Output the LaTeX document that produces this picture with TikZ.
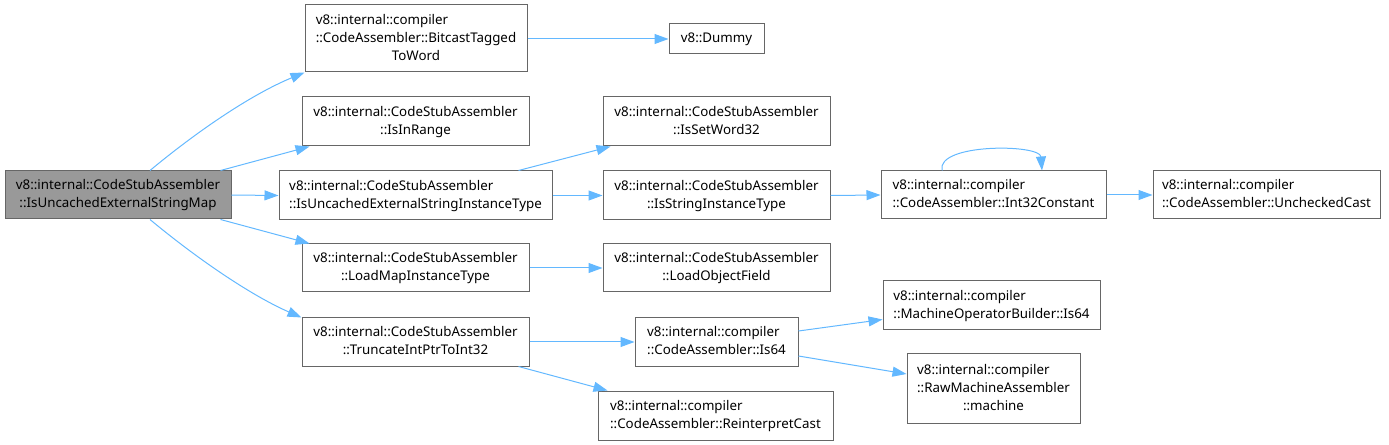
\documentclass[tikz,border=0pt]{standalone}
\usepackage{fontspec}
\setmainfont{Noto Sans}
\usetikzlibrary{arrows.meta,calc}
\definecolor{edgec}{HTML}{63B8FF}
\definecolor{borderc}{HTML}{666666}
\definecolor{rootc}{HTML}{999999}
\newcommand{\dxl}[2]{\begin{tabular}{@{}l@{}}#1\\\multicolumn{1}{@{}c@{}}{#2}\end{tabular}}
\begin{document}
\begin{tikzpicture}[x=0.75pt,y=-0.75pt,
  box/.style={draw=borderc,line width=0.75pt,fill=white,inner sep=0pt,minimum width=#1*0.75pt},
  font=\fontsize{10}{13.5}\selectfont,
  edge/.style={draw=edgec,line width=0.75pt,-{Triangle[length=10.5pt,width=7.5pt]}}]
\useasboundingbox (0,0) rectangle (1389,445);
\renewcommand{\arraystretch}{1}
\node[box=226,minimum height=36pt,fill=rootc] (root) at (118,195) {\dxl{v8::internal::CodeStubAssembler}{::IsUncachedExternalStringMap}};
\node[box=222,minimum height=50.25pt] (bit) at (416,38.5) {\dxl{v8::internal::compiler\\::CodeAssembler::BitcastTagged}{ToWord}};
\node[box=95,minimum height=22.5pt] (dummy) at (716.5,39) {v8::Dummy};
\node[box=227,minimum height=36.75pt] (inr) at (415.5,121.5) {\dxl{v8::internal::CodeStubAssembler}{::IsInRange}};
\node[box=273,minimum height=36.75pt] (unc) at (415.5,195.5) {\dxl{v8::internal::CodeStubAssembler}{::IsUncachedExternalStringInstanceType}};
\node[box=227,minimum height=36pt] (lmap) at (415.5,268) {\dxl{v8::internal::CodeStubAssembler}{::LoadMapInstanceType}};
\node[box=227,minimum height=36pt] (trn) at (415.5,342) {\dxl{v8::internal::CodeStubAssembler}{::TruncateIntPtrToInt32}};
\node[box=227,minimum height=36.75pt] (setw) at (716.5,121.5) {\dxl{v8::internal::CodeStubAssembler}{::IsSetWord32}};
\node[box=227,minimum height=36.75pt] (sit) at (716.5,195.5) {\dxl{v8::internal::CodeStubAssembler}{::IsStringInstanceType}};
\node[box=227,minimum height=36pt] (lobj) at (716.5,268) {\dxl{v8::internal::CodeStubAssembler}{::LoadObjectField}};
\node[box=163,minimum height=36pt] (is64) at (716.5,342) {\dxl{v8::internal::compiler}{::CodeAssembler::Is64}};
\node[box=235,minimum height=36.75pt] (rei) at (715.5,415.5) {\dxl{v8::internal::compiler}{::CodeAssembler::ReinterpretCast}};
\node[box=225,minimum height=36pt] (i32) at (993.5,195) {\dxl{v8::internal::compiler}{::CodeAssembler::Int32Constant}};
\node[box=227,minimum height=36pt] (unch) at (1266.5,195) {\dxl{v8::internal::compiler}{::CodeAssembler::UncheckedCast}};
\node[box=217,minimum height=36.75pt] (mob) at (991.5,305.5) {\dxl{v8::internal::compiler}{::MachineOperatorBuilder::Is64}};
\node[box=173,minimum height=51.75pt] (mach) at (993.5,388.5) {\dxl{v8::internal::compiler\\::RawMachineAssembler}{::machine}};
% edges from root
\draw[edge] ($(root.north)+(32,0)$) .. controls (195,133) and (250,95) .. ($(bit.south west)+(0,0)$);
\draw[edge] ($(root.north east)+(-11,0)$) -- ($(inr.south west)+(8,0)$);
\draw[edge] (root.east) -- (unc.west);
\draw[edge] ($(root.south east)+(-11,0)$) -- ($(lmap.north west)+(8,0)$);
\draw[edge] ($(root.south)+(32,0)$) .. controls (195,257) and (250,295) .. ($(trn.north west)+(0,0)$);
% second layer
\draw[edge] (bit.east |- dummy.west) -- (dummy.west);
\draw[edge] ($(unc.north east)+(-34,0)$) -- ($(setw.south west)+(8,0)$);
\draw[edge] (unc.east) -- (sit.west);
\draw[edge] (lmap.east) -- (lobj.west);
\draw[edge] (trn.east) -- (is64.west);
\draw[edge] ($(trn.south east)+(-11,0)$) -- ($(rei.north west)+(10,0)$);
% third layer
\draw[edge] (sit.east) -- (i32.west);
\draw[edge] ($(i32.north)+(-51.5,0)$) .. controls (936,143) and (1040,144) .. ($(i32.north)+(48.5,0)$);
\draw[edge] (i32.east) -- (unch.west);
\draw[edge] ($(is64.east)+(0,-11)$) -- ($(mob.west)+(0,14)$);
\draw[edge] ($(is64.east)+(0,14)$) -- ($(mach.west)+(0,-14.5)$);
\end{tikzpicture}
\end{document}
